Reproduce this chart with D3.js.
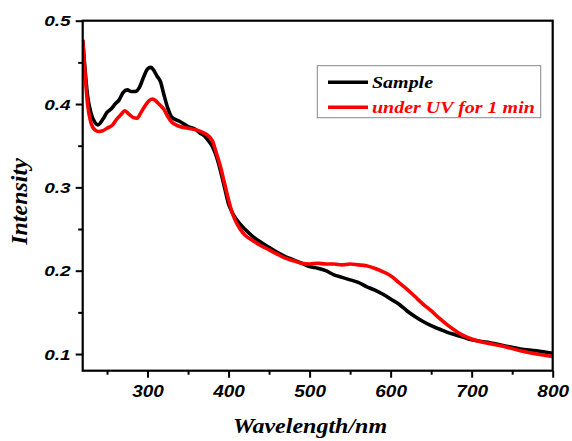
<!DOCTYPE html>
<html>
<head>
<meta charset="utf-8">
<script src="https://cdn.jsdelivr.net/npm/d3@7"></script>
<style>
  html, body { margin: 0; padding: 0; background: #fff; }
  svg { display: block; }
</style>
</head>
<body>
<svg id="chart" width="572" height="441"></svg>
<script>
// Absorption spectra: wavelength (nm) and intensity for each sample
const sampleWl = [220,223,226,230,235,239,245,250,255,260,265,270,275,280,285,290,295,300,304,308,312,316,320,325,330,340,350,360,365,370,375,380,385,390,395,400,405,410,420,430,440,450,460,470,480,490,500,510,520,530,540,550,560,570,580,590,600,610,620,630,640,650,660,670,680,690,700,720,740,760,780,800];
const sampleVal = [0.477,0.44,0.41,0.39,0.378,0.375,0.382,0.390,0.394,0.400,0.405,0.414,0.417,0.415,0.415,0.420,0.432,0.442,0.444,0.440,0.433,0.427,0.412,0.395,0.384,0.379,0.373,0.369,0.365,0.362,0.356,0.349,0.337,0.320,0.300,0.280,0.269,0.261,0.250,0.241,0.234,0.228,0.222,0.217,0.213,0.209,0.205,0.203,0.200,0.195,0.192,0.189,0.186,0.181,0.177,0.172,0.166,0.160,0.152,0.145,0.139,0.134,0.130,0.126,0.123,0.120,0.117,0.114,0.110,0.106,0.104,0.101];

const uvWl = [220,223,226,230,235,240,245,250,257,262,267,272,277,282,287,292,297,302,306,310,315,320,325,330,335,340,350,360,370,375,380,385,390,395,400,405,410,415,420,430,440,450,460,470,480,490,500,510,520,530,540,550,560,570,580,590,600,610,620,630,640,650,660,670,680,690,700,710,720,740,760,780,800];
const uvVal = [0.477,0.435,0.40,0.378,0.369,0.367,0.368,0.371,0.375,0.382,0.387,0.392,0.388,0.384,0.383,0.390,0.398,0.404,0.406,0.404,0.399,0.394,0.385,0.378,0.375,0.373,0.371,0.369,0.365,0.362,0.356,0.341,0.325,0.305,0.285,0.268,0.257,0.249,0.243,0.236,0.230,0.225,0.220,0.215,0.212,0.209,0.208,0.209,0.208,0.208,0.207,0.208,0.207,0.206,0.203,0.199,0.194,0.186,0.178,0.169,0.160,0.152,0.143,0.135,0.128,0.122,0.118,0.115,0.113,0.109,0.104,0.100,0.097];

const xMajorTicks = [300,400,500,600,700,800];
const xMinorTicks = [250,350,450,550,650,750];
const yMajorTicks = [0.1,0.2,0.3,0.4,0.5];
const yMinorTicks = [0.15,0.25,0.35,0.45];

const seriesNames = ["Sample", "under UV for 1 min"];
const seriesColors = ["#000000", "#ff0000"];

const svg = d3.select("#chart");
const m = { left: 82.7, right: 552.7, top: 20.7, bottom: 370.7 };

const x = d3.scaleLinear().domain([220, 800]).range([m.left, m.right]);
const y = d3.scaleLinear().domain([0.08, 0.5]).range([m.bottom, m.top]);

svg.append("defs").append("clipPath").attr("id", "plotClip")
  .append("rect")
  .attr("x", m.left).attr("y", m.top)
  .attr("width", m.right - m.left).attr("height", m.bottom - m.top);

// Curves
const line = d3.line()
  .x(d => x(d[0]))
  .y(d => y(d[1]))
  .curve(d3.curveMonotoneX);

const series = [
  d3.zip(sampleWl, sampleVal),
  d3.zip(uvWl, uvVal)
];

const g = svg.append("g").attr("clip-path", "url(#plotClip)");
series.forEach((s, i) => {
  g.append("path")
    .datum(s)
    .attr("fill", "none")
    .attr("stroke", seriesColors[i])
    .attr("stroke-width", 3.6)
    .attr("stroke-linejoin", "round")
    .attr("d", line);
});

// Frame
svg.append("rect")
  .attr("x", m.left).attr("y", m.top)
  .attr("width", m.right - m.left).attr("height", m.bottom - m.top)
  .attr("fill", "none").attr("stroke", "#000").attr("stroke-width", 2.2);

// X axis (major + minor ticks, outward)
const xAxisMajor = d3.axisBottom(x).tickValues(xMajorTicks).tickSize(7).tickPadding(5).tickFormat(d3.format("d"));
const xAxisMinor = d3.axisBottom(x).tickValues(xMinorTicks).tickSize(4).tickFormat("");

const gxMinor = svg.append("g").attr("transform", `translate(0,${m.bottom})`).call(xAxisMinor);
const gx = svg.append("g").attr("transform", `translate(0,${m.bottom})`).call(xAxisMajor);

// Y axis
const yAxisMajor = d3.axisLeft(y).tickValues(yMajorTicks).tickSize(7).tickPadding(5).tickFormat(d3.format(".1f"));
const yAxisMinor = d3.axisLeft(y).tickValues(yMinorTicks).tickSize(4.5).tickFormat("");

const gyMinor = svg.append("g").attr("transform", `translate(${m.left},0)`).call(yAxisMinor);
const gy = svg.append("g").attr("transform", `translate(${m.left},0)`).call(yAxisMajor);

[gx, gxMinor, gy, gyMinor].forEach(a => {
  a.select(".domain").remove();
  a.selectAll(".tick line").attr("stroke", "#000").attr("stroke-width", 2);
});

gx.selectAll(".tick text")
  .attr("font-family", "'Liberation Sans', Arial, sans-serif")
  .attr("font-weight", "bold").attr("font-style", "italic")
  .attr("font-size", 19).attr("fill", "#000")
  .attr("dy", null)
  .attr("y", 0)
  .attr("transform", "translate(0,26) scale(1,0.9)");

gy.selectAll(".tick text")
  .attr("font-family", "'Liberation Sans', Arial, sans-serif")
  .attr("font-weight", "bold").attr("font-style", "italic")
  .attr("font-size", 19).attr("fill", "#000")
  .attr("dy", null)
  .attr("x", 0)
  .attr("transform", "translate(-12,5) scale(1,0.75)");

// Axis titles
svg.append("text")
  .attr("transform", "translate(310,432.5) scale(1,0.85)")
  .attr("text-anchor", "middle")
  .attr("font-family", "'Liberation Serif', 'Times New Roman', serif")
  .attr("font-weight", "bold").attr("font-style", "italic")
  .attr("font-size", 24)
  .text("Wavelength/nm");

svg.append("text")
  .attr("transform", "translate(26.5,201.5) rotate(-90)")
  .attr("text-anchor", "middle")
  .attr("font-family", "'Liberation Serif', 'Times New Roman', serif")
  .attr("font-weight", "bold").attr("font-style", "italic")
  .attr("font-size", 24)
  .text("Intensity");

// Legend
const legend = svg.append("g");
legend.append("rect")
  .attr("x", 317.3).attr("y", 65.7)
  .attr("width", 223.4).attr("height", 52)
  .attr("fill", "#fff").attr("stroke", "#888").attr("stroke-width", 1);

seriesNames.forEach((name, i) => {
  const ly = 82.3 + i * 25;
  legend.append("line")
    .attr("x1", 328).attr("x2", 368)
    .attr("y1", ly).attr("y2", ly)
    .attr("stroke", seriesColors[i]).attr("stroke-width", 3.6);
  legend.append("text")
    .attr("transform", `translate(372,${ly + 5.2}) scale(1,0.82)`)
    .attr("font-family", "'Liberation Serif', 'Times New Roman', serif")
    .attr("font-weight", "bold").attr("font-style", "italic")
    .attr("font-size", 20)
    .attr("fill", seriesColors[i])
    .text(name);
});
</script>
</body>
</html>
